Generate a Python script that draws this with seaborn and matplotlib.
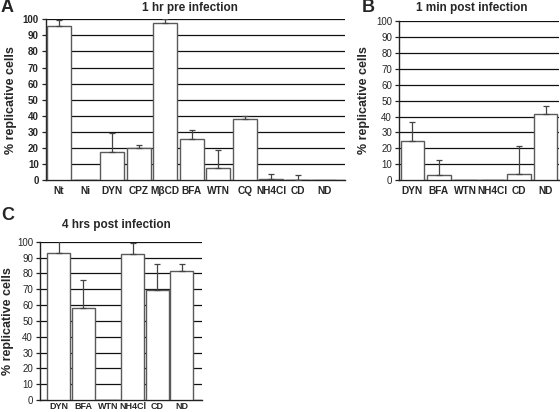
import numpy as np
import matplotlib
matplotlib.use("Agg")
import matplotlib.pyplot as plt
import seaborn as sns

# panel A: 1 hr pre infection
cats_a = ["Nt", "Ni", "DYN", "CPZ", "M\u03b2CD", "BFA", "WTN", "CQ", "NH4Cl", "CD", "ND"]
vals_a = [95.5, 0, 17.8, 19.8, 97.9, 25.7, 7.5, 38.1, 0.8, 0, 0]
err_a = [3.7, 0, 11.4, 2.0, 2.2, 5.3, 11.5, 1.9, 2.9, 3.5, 0]

# panel B: 1 min post infection
cats_b = ["DYN", "BFA", "WTN", "NH4Cl", "CD", "ND"]
vals_b = [24.8, 3.3, 0, 0, 3.8, 41.8]
err_b = [11.9, 9.6, 0, 0, 17.9, 5.0]

# panel C: 4 hrs post infection
cats_c = ["DYN", "BFA", "WTN", "NH4Cl", "CD", "ND"]
vals_c = [93.0, 58.3, 0, 92.4, 69.3, 81.2]
err_c = [7.5, 17.3, 0, 7.0, 16.4, 4.5]

sns.set_style("white")
plt.rcParams["font.family"] = ["Liberation Sans", "DejaVu Sans"]

fig = plt.figure(figsize=(5.6, 4.12), dpi=100)


def panel(rect, cats, vals, errs, width, xlim, bold_ticks, xpad, xsize, ylpad):
    ax = fig.add_axes(rect)
    sns.barplot(x=cats, y=vals, order=cats, ax=ax, color="white",
                edgecolor="#5a5a5a", linewidth=1.0, width=width, zorder=3)
    pos = np.arange(len(cats))
    has = np.array(errs) > 0
    ax.errorbar(pos[has], np.array(vals)[has],
                yerr=[np.zeros(has.sum()), np.array(errs)[has]],
                fmt="none", ecolor="#444444", elinewidth=0.9, capsize=2.5,
                capthick=0.9, zorder=4)
    ax.set_ylim(0, 100)
    ax.set_yticks(range(0, 101, 10))
    ax.set_xlim(*xlim)
    ax.yaxis.grid(True, color="#111111", linewidth=0.9, zorder=0)
    ax.set_axisbelow(True)
    for s in ["top", "right"]:
        ax.spines[s].set_visible(False)
    for s in ["left", "bottom"]:
        ax.spines[s].set_color("#222222")
        ax.spines[s].set_linewidth(1.0)
    ax.tick_params(axis="y", length=3, width=0.9, pad=2, labelsize=7,
                   left=True, color="#222222")
    ax.tick_params(axis="x", length=0, pad=xpad, labelsize=xsize)
    for t in ax.get_xticklabels():
        t.set_fontweight("bold")
    if bold_ticks:
        for t in ax.get_yticklabels():
            t.set_fontweight("bold")
    ax.set_xlabel("")
    ax.set_ylabel("% replicative cells", fontsize=9, fontweight="bold",
                  labelpad=ylpad)
    return ax


ax_a = panel([0.0816, 0.5624, 0.534, 0.391], cats_a, vals_a, err_a, 0.9,
             (-0.5, 10.77), True, 4, 7.3, 4)
ax_b = panel([0.7125, 0.562, 0.2857, 0.388], cats_b, vals_b, err_b, 0.87,
             (-0.5, 5.5), False, 4, 7.3, 4)
ax_c = panel([0.0714, 0.0291, 0.2888, 0.3842], cats_c, vals_c, err_c, 0.93,
             (-0.76, 5.81), False, 1.5, 6.5, 2)

fig.text(190 / 560, 1 - 8 / 412, "1 hr pre infection", ha="center",
         va="center", fontsize=8.5, fontweight="bold")
fig.text(472 / 560, 1 - 8 / 412, "1 min post infection", ha="center",
         va="center", fontsize=8.5, fontweight="bold")
fig.text(116 / 560, 1 - 225 / 412, "4 hrs post infection", ha="center",
         va="center", fontsize=8.5, fontweight="bold")

fig.text(1 / 560, 1 - 7 / 412, "A", ha="left", va="center", fontsize=13,
         fontweight="bold")
fig.text(362 / 560, 1 - 7 / 412, "B", ha="left", va="center", fontsize=13,
         fontweight="bold")
fig.text(1 / 560, 1 - 216 / 412, "C", ha="left", va="center", fontsize=13,
         fontweight="bold")

fig.savefig("out.png", dpi=100, facecolor="white")
